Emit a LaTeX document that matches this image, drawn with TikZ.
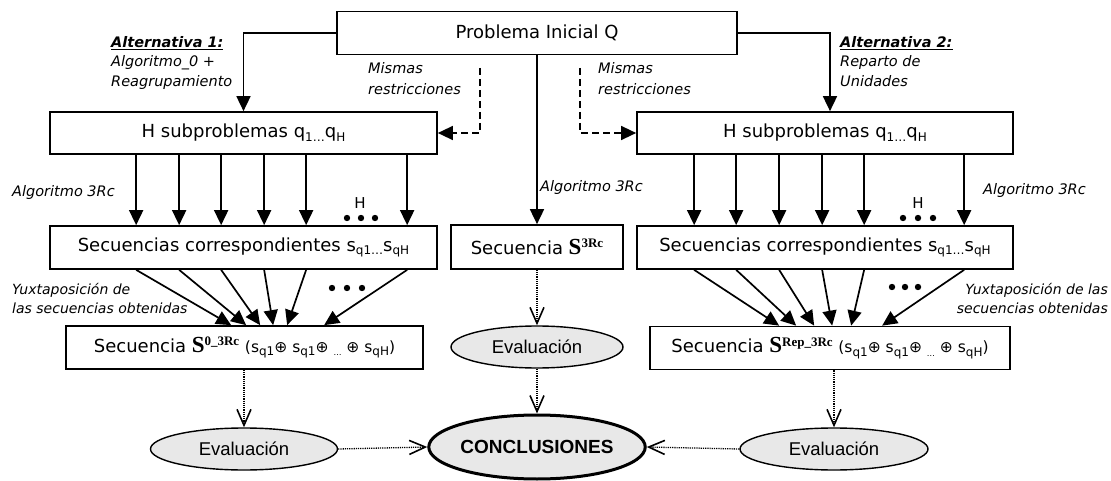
\documentclass[tikz,border=0pt]{standalone}
\usepackage{fontspec}
\setmainfont{DejaVu Sans}
\newfontfamily\lsans{Liberation Sans}
\newfontfamily\serifb{Liberation Serif}
\usetikzlibrary{arrows.meta,shapes.geometric}
\newcommand\mysub[1]{\raisebox{-3.5pt}{\fontsize{12}{12}\selectfont #1}}
\newcommand\tinysub[1]{\raisebox{-3.5pt}{\fontsize{8}{8}\selectfont #1}}
\newcommand\bigS[1]{{\serifb\bfseries\fontsize{23}{23}\selectfont S\raisebox{6.5pt}{\fontsize{13}{13}\selectfont #1}}}
\begin{document}
\begin{tikzpicture}[x=1pt,y=-1pt,
 box/.style={draw, line width=1.7pt, inner sep=0pt, font=\fontsize{18}{20}\selectfont},
 evalnode/.style={ellipse, draw, line width=1.4pt, fill=black!9, inner sep=0pt, font=\lsans\fontsize{18.5}{20}\selectfont},
 lab/.style={font=\itshape\fontsize{14.5}{20}\selectfont, inner sep=0pt},
 arr/.style={line width=1.7pt, -{Triangle[length=15pt,width=14pt]}},
 dasharr/.style={line width=1.4pt, dash pattern=on 7pt off 4pt, -{Triangle[length=15pt,width=14pt]}},
 dotarr/.style={line width=1.3pt, dash pattern=on 1.2pt off 1pt, -{Straight Barb[length=16pt,width=14pt,line width=1.6pt]}},
 ]
\useasboundingbox (0,0) rectangle (1111,481);

% boxes
\node[box, minimum width=400pt, minimum height=43pt] (top) at (537,33) {Problema Inicial Q};
\node[box, minimum width=387pt, minimum height=42pt] (hL) at (243.5,133) {H subproblemas q\mysub{1…}q\mysub{H}};
\node[box, minimum width=376pt, minimum height=42pt] (hR) at (825,133) {H subproblemas q\mysub{1…}q\mysub{H}};
\node[box, minimum width=387pt, minimum height=43pt] (sL) at (243.5,247.5) {Secuencias correspondientes s\mysub{q1…}s\mysub{qH}};
\node[box, minimum width=172pt, minimum height=44pt] (sC) at (537,247) {Secuencia \bigS{3Rc}};
\node[box, minimum width=376pt, minimum height=43pt] (sR) at (825,247.5) {Secuencias correspondientes s\mysub{q1…}s\mysub{qH}};
\node[box, minimum width=357pt, minimum height=43pt] (bL) at (244.5,347.5) {Secuencia \bigS{0\_3Rc} {\fontsize{15.5}{16}\selectfont (s\mysub{q1}⊕ s\mysub{q1}⊕ \tinysub{…} ⊕ s\mysub{qH})}};
\node[box, minimum width=360pt, minimum height=43pt] (bR) at (830,348) {Secuencia \bigS{Rep\_3Rc} {\fontsize{15.5}{16}\selectfont (s\mysub{q1}⊕ s\mysub{q1}⊕ \tinysub{…} ⊕ s\mysub{qH})}};

% ellipses
\node[evalnode, minimum width=172pt, minimum height=42pt] (evC) at (537,347) {Evaluación};
\node[evalnode, minimum width=187pt, minimum height=42pt] (evL) at (244,449) {Evaluación};
\node[evalnode, minimum width=188pt, minimum height=42pt] (evR) at (834,449) {Evaluación};
\node[evalnode, line width=3pt, minimum width=204pt, minimum height=64pt, font=\lsans\bfseries\fontsize{19}{20}\selectfont] (concl) at (537,447) {CONCLUSIONES};

% labels
\node[lab, anchor=north west, align=left, font=\itshape\fontsize{14.5}{19.5}\selectfont] (alt1) at (111,36) {\underline{\bfseries Alternativa 1:}\\Algoritmo\_0 +\\Reagrupamiento};
\node[lab, anchor=north west, align=left, font=\itshape\fontsize{14.5}{19.5}\selectfont] (alt2) at (840,36) {\underline{\bfseries Alternativa 2:}\\Reparto de\\Unidades};
\node[lab, anchor=north west, align=left, font=\itshape\fontsize{14.5}{21.5}\selectfont] (mL) at (368,62) {Mismas\\restricciones};
\node[lab, anchor=north west, align=left, font=\itshape\fontsize{14.5}{21.5}\selectfont] (mR) at (598,62) {Mismas\\restricciones};
\node[lab, anchor=west] (aL) at (12,192) {Algoritmo 3Rc};
\node[lab, anchor=west] (aC) at (540,188) {Algoritmo 3Rc};
\node[lab, anchor=west] (aR) at (983,191) {Algoritmo 3Rc};
\node[lab, anchor=west, align=left, font=\itshape\fontsize{14}{19}\selectfont] (yL) at (12,299) {Yuxtaposición de\\las secuencias obtenidas};
\node[lab, anchor=east, align=right, font=\itshape\fontsize{14}{19}\selectfont] (yR) at (1108,298) {Yuxtaposición de las\\secuencias obtenidas};

% H and dots
\node[font=\fontsize{15}{15}\selectfont, inner sep=0pt] (HL) at (360,203) {H};
\node[font=\fontsize{15}{15}\selectfont, inner sep=0pt] (HR) at (918,203) {H};
\foreach \x in {347,361,375} \fill (\x,218) circle (3.2pt);
\foreach \x in {903,918,933} \fill (\x,218) circle (3.2pt);
\foreach \x in {332,347,362} \fill (\x,288) circle (3.2pt);
\foreach \x in {892,905,918} \fill (\x,287) circle (3.2pt);

% top connectors
\draw[arr] (top.west) -| (hL.north);
\draw[arr] (top.east) -| ([xshift=5pt]hR.north);
\draw[arr] (top.south) -- (sC.north);
\coordinate (dl) at (480,68);
\coordinate (dr) at (580,68);
\draw[dasharr] (dl) |- (hL.east);
\draw[dasharr] (dr) |- (hR.west);

% vertical arrows
\foreach \d in {87,130,172,215,257,358}
  \draw[arr] ([xshift=\d pt]hL.south west) -- ([xshift=\d pt]sL.north west);
\foreach \d in {58,100,143,186,228,328}
  \draw[arr] ([xshift=\d pt]hR.south west) -- ([xshift=\d pt]sR.north west);

% converging arrows
\foreach \d/\e in {87/166,130/181,172/195,215/208,257/222,358/259}
  \draw[arr] ([xshift=\d pt]sL.south west) -- ([xshift=\e pt]bL.north west);
\foreach \d/\e in {58/130,100/147,143/165,186/183,228/202,328/233}
  \draw[arr] ([xshift=\d pt]sR.south west) -- ([xshift=\e pt]bR.north west);

% dotted
\draw[dotarr] (sC.south) -- (evC.north);
\draw[dotarr] (evL.north |- bL.south) -- (evL.north);
\draw[dotarr] (evR.north |- bR.south) -- (evR.north);
\draw[dotarr] (evC.south) -- (concl.north);
\draw[dotarr] (evL.east) -- (concl.west);
\draw[dotarr] (evR.west) -- (concl.east);
\end{tikzpicture}
\end{document}
